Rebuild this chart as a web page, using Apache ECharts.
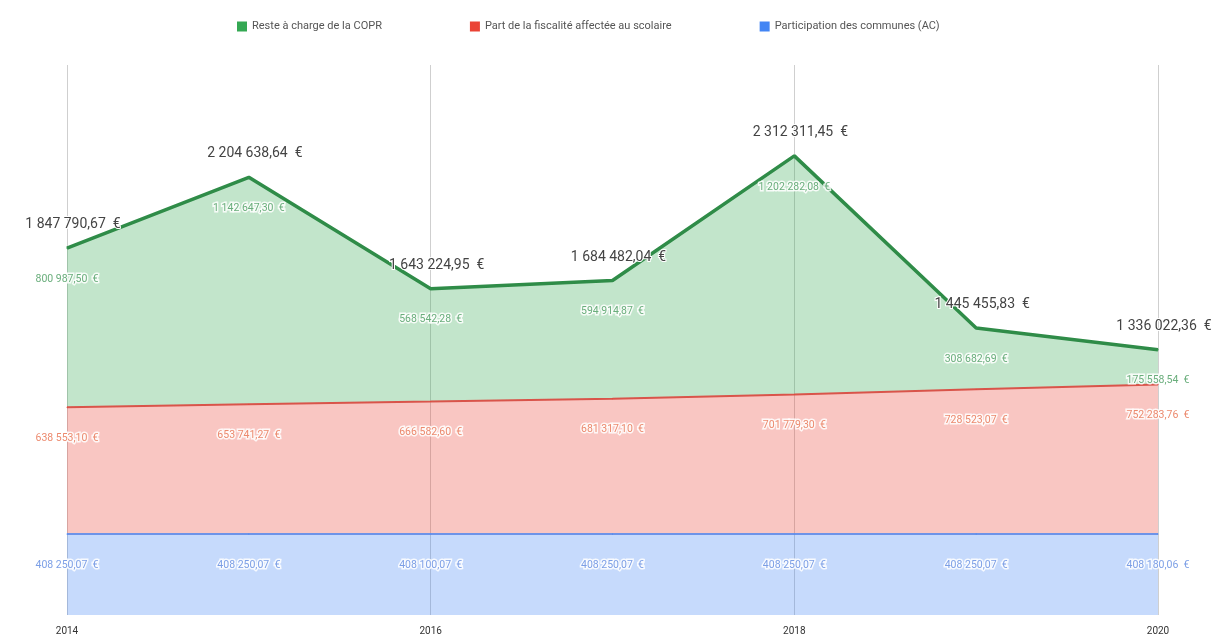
<!DOCTYPE html>
<html>
<head>
<meta charset="utf-8">
<title>COPR</title>
<script src="https://cdn.jsdelivr.net/npm/echarts@6/dist/echarts.min.js"></script>
<style>
    html, body { margin: 0; padding: 0; background: #fff; }
    #chart-container { width: 1226px; height: 641px; }
</style>
</head>
<body>
<div id="chart-container"></div>
<script>
// valeurs
var annees = ['2014', '2015', '2016', '2017', '2018', '2019', '2020'];
var participation = [408250.07, 408250.07, 408100.07, 408250.07, 408250.07, 408250.07, 408180.06];
var fiscalite = [638553.10, 653741.27, 666582.60, 681317.10, 701779.30, 728523.07, 752283.76];
var resteACharge = [800987.50, 1142647.30, 568542.28, 594914.87, 1202282.08, 308682.69, 175558.54];
var totaux = [1847790.67, 2204638.64, 1643224.95, 1684482.04, 2312311.45, 1445455.83, 1336022.36];

function euros(v) {
    var parts = v.toFixed(2).split('.');
    return parts[0].replace(/\B(?=(\d{3})+(?!\d))/g, ' ') + ',' + parts[1] + '  €';
}

function serieLabel(color) {
    return {
        show: true,
        position: 'bottom',
        distance: 25,
        fontSize: 10.5,
        fontFamily: 'Roboto',
        color: color,
        textBorderColor: 'rgba(255,255,255,0.85)',
        textBorderWidth: 3,
        formatter: function (p) { return euros(p.value); }
    };
}

var dom = document.getElementById('chart-container');
var myChart = echarts.init(dom, null, { renderer: 'canvas' });

var option = {
    animation: false,
    textStyle: { fontFamily: 'Roboto' },
    legend: {
        top: 16,
        left: 232,
        itemWidth: 10,
        itemHeight: 10,
        itemGap: 88,
        icon: 'rect',
        textStyle: { fontSize: 11, color: '#555' },
        data: ['Reste à charge de la COPR', 'Part de la fiscalité affectée au scolaire', 'Participation des communes (AC)']
    },
    grid: { left: 67, right: 68, top: 65, bottom: 26 },
    xAxis: {
        type: 'category',
        boundaryGap: false,
        data: annees,
        axisLine: { show: false },
        axisTick: { show: false },
        axisLabel: { interval: 1, fontSize: 10, color: '#333', margin: 11 },
        splitLine: { show: true, interval: 1, lineStyle: { color: '#cfcfcf', width: 1 } }
    },
    yAxis: {
        type: 'value',
        min: 0,
        max: 2770000,
        axisLabel: { show: false },
        axisLine: { show: false },
        axisTick: { show: false },
        splitLine: { show: false }
    },
    series: [
        {
            name: 'Participation des communes (AC)',
            type: 'line',
            stack: 'total',
            data: participation,
            symbol: 'circle',
            symbolSize: 1,
            itemStyle: { color: '#4285f4' },
            lineStyle: { color: '#6d93e8', width: 2 },
            areaStyle: { color: '#4285f4', opacity: 0.3 },
            label: serieLabel('#7c9fe6')
        },
        {
            name: 'Part de la fiscalité affectée au scolaire',
            type: 'line',
            stack: 'total',
            data: fiscalite,
            symbol: 'circle',
            symbolSize: 1,
            itemStyle: { color: '#ea4335' },
            lineStyle: { color: '#d9544a', width: 2 },
            areaStyle: { color: '#ea4335', opacity: 0.3 },
            label: serieLabel('#ec8a6e')
        },
        {
            name: 'Reste à charge de la COPR',
            type: 'line',
            stack: 'total',
            data: resteACharge,
            symbol: 'circle',
            symbolSize: 1,
            itemStyle: { color: '#34a853' },
            lineStyle: { color: '#2f8c48', width: 3.5 },
            areaStyle: { color: '#34a853', opacity: 0.3 },
            label: serieLabel('#6aae7c')
        },
        {
            name: 'Total',
            type: 'line',
            stack: 'total',
            data: annees.map(function () { return 0; }),
            symbol: 'circle',
            symbolSize: 1,
            itemStyle: { color: '#2f8c48' },
            lineStyle: { width: 0 },
            z: 5,
            label: {
                show: true,
                position: 'top',
                distance: 16,
                offset: [6, 0],
                fontSize: 14,
                color: '#444',
                textBorderColor: '#fff',
                textBorderWidth: 2,
                formatter: function (p) { return euros(totaux[p.dataIndex]); }
            }
        }
    ]
};

myChart.setOption(option);
window.addEventListener('resize', myChart.resize);
</script>
</body>
</html>
